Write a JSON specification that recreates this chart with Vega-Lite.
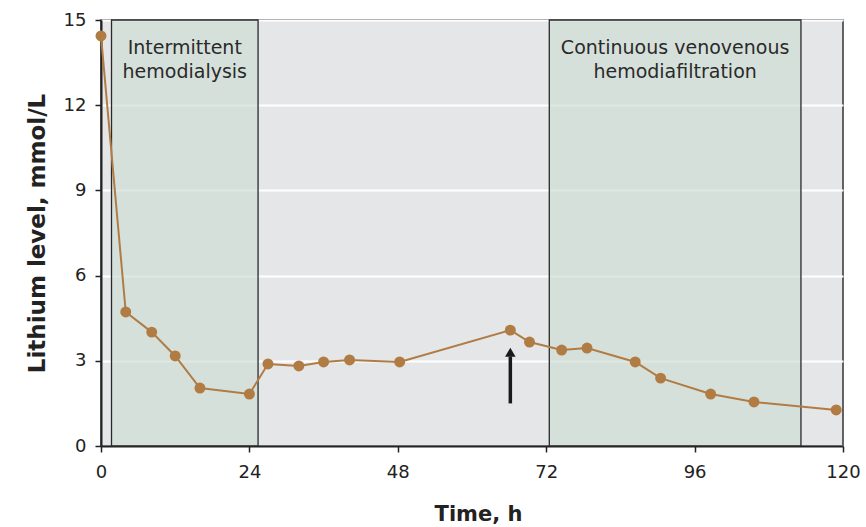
{
  "$schema": "https://vega.github.io/schema/vega-lite/v6.json",
  "width": 742,
  "height": 426,
  "autosize": "none",
  "padding": {"left": 101, "top": 20, "right": 23, "bottom": 81},
  "background": "white",
  "config": {
    "font": "DejaVu Sans",
    "view": {"fill": "#e5e6e8", "stroke": "#333333", "strokeWidth": 1.5},
    "axis": {
      "domainColor": "#222222",
      "domainWidth": 2,
      "tickColor": "#222222",
      "tickWidth": 1.5,
      "tickSize": 6,
      "labelFontSize": 18,
      "labelColor": "#222222",
      "labelFlush": false,
      "titleFontWeight": "bold",
      "titleColor": "#222222"
    }
  },
  "datasets": {
    "series": [
      {"t": 0, "li": 14.44},
      {"t": 4, "li": 4.72},
      {"t": 8.2, "li": 4.01},
      {"t": 12, "li": 3.17},
      {"t": 16, "li": 2.04},
      {"t": 24, "li": 1.83},
      {"t": 27, "li": 2.89},
      {"t": 32, "li": 2.82},
      {"t": 36, "li": 2.96},
      {"t": 40.2, "li": 3.03},
      {"t": 48.3, "li": 2.96},
      {"t": 66.2, "li": 4.08},
      {"t": 69.3, "li": 3.66},
      {"t": 74.5, "li": 3.38},
      {"t": 78.6, "li": 3.45},
      {"t": 86.4, "li": 2.96},
      {"t": 90.5, "li": 2.39},
      {"t": 98.6, "li": 1.83},
      {"t": 105.6, "li": 1.55},
      {"t": 118.9, "li": 1.27}
    ],
    "bands": [
      {"start": 1.7, "end": 25.4, "mid": 13.55, "label": "Intermittent\nhemodialysis"},
      {"start": 72.5, "end": 113.2, "mid": 92.85, "label": "Continuous venovenous\nhemodiafiltration"}
    ],
    "arrow": [
      {"t": 66.2, "from": 1.5, "to": 3.15, "head": 3.3}
    ]
  },
  "encoding": {
    "x": {"field": "t", "type": "quantitative", "scale": {"domain": [0, 120], "nice": false},
          "axis": {"values": [0, 24, 48, 72, 96, 120], "grid": false, "title": "Time, h", "labelPadding": 11, "titlePadding": 22, "titleFontSize": 21, "titleX": 377}}
  },
  "layer": [
    {
      "data": {"name": "bands"},
      "mark": {"type": "rect", "fill": "#d0ddd5", "fillOpacity": 0.7, "stroke": "#2a2a2a", "strokeWidth": 1.3},
      "encoding": {
        "x": {"field": "start", "type": "quantitative"},
        "x2": {"field": "end"}
      }
    },
    {
      "data": {"name": "bands"},
      "mark": {"type": "text", "fontSize": 19, "color": "#2a2a2a", "lineBreak": "\n", "lineHeight": 24, "baseline": "top", "dy": 19},
      "encoding": {
        "x": {"field": "mid", "type": "quantitative"},
        "y": {"datum": 15, "type": "quantitative", "scale": {"domain": [0, 15], "nice": false}},
        "text": {"field": "label"}
      }
    },
    {
      "data": {"name": "series"},
      "mark": {"type": "line", "color": "#b07c44", "strokeWidth": 2},
      "encoding": {
        "y": {"field": "li", "type": "quantitative", "scale": {"domain": [0, 15], "nice": false},
              "axis": {"values": [0, 3, 6, 9, 12, 15], "grid": true, "gridColor": "white", "gridWidth": 2, "title": "Lithium level, mmol/L", "labelPadding": 9, "titlePadding": 14, "titleFontSize": 23}}
      }
    },
    {
      "data": {"name": "series"},
      "mark": {"type": "point", "filled": true, "opacity": 1, "color": "#b07c44", "size": 120},
      "encoding": {
        "y": {"field": "li", "type": "quantitative"}
      }
    },
    {
      "data": {"name": "arrow"},
      "mark": {"type": "rule", "color": "#1a1a1a", "strokeWidth": 3.5},
      "encoding": {
        "y": {"field": "from", "type": "quantitative"},
        "y2": {"field": "to"}
      }
    },
    {
      "data": {"name": "arrow"},
      "mark": {"type": "point", "shape": "triangle-up", "filled": true, "opacity": 1, "color": "#1a1a1a", "size": 110},
      "encoding": {
        "y": {"field": "head", "type": "quantitative"}
      }
    }
  ]
}
